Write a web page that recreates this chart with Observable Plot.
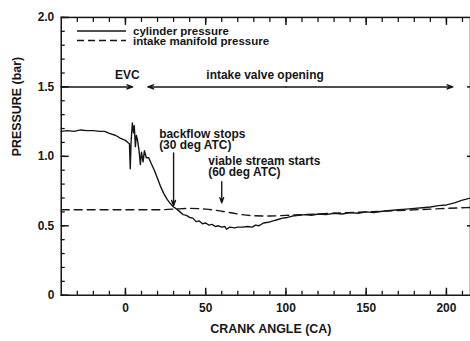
<!DOCTYPE html>
<html>
<head>
<meta charset="utf-8">
<script src="https://cdn.jsdelivr.net/npm/d3@7"></script>
<script src="https://cdn.jsdelivr.net/npm/@observablehq/plot@0.6"></script>
<style>
  html, body { margin: 0; padding: 0; background: #fff; overflow: hidden; }
  #wrap { position: relative; width: 470px; height: 341px; overflow: hidden; }
  #wrap svg.plot { position: absolute; left: 0; top: 0; }
  #legend { position: absolute; left: 0; top: 0; }
</style>
</head>
<body>
<div id="wrap"></div>
<script>
// ---- data ----
const cylAngle = [-40,-36,-32,-28,-24,-20,-16,-13,-10,-6,-3,0,1.5,2.5,3.0,3.5,4.3,5.0,5.5,6.2,6.8,7.5,8.5,9.3,10,11,11.8,13,14.5,16,18,20,22,24,26,28,30,32,34,36,38,40,42,44,46,48,50,52,54,56,58,60,62,63,65,68,70,73,76,79,81,83,86,89,92,95,98,101,104,108,112,116,120,125,130,135,140,145,150,155,160,165,170,175,180,185,190,195,200,205,210,215];
const cylPressure = [1.18,1.185,1.18,1.19,1.185,1.185,1.18,1.18,1.165,1.15,1.13,1.115,1.10,1.09,0.91,1.10,1.24,1.17,1.22,1.07,1.15,1.12,1.04,0.94,1.03,0.96,1.04,0.99,0.99,0.95,0.90,0.84,0.78,0.73,0.69,0.66,0.635,0.62,0.60,0.58,0.575,0.56,0.555,0.53,0.535,0.515,0.52,0.505,0.51,0.495,0.50,0.49,0.495,0.475,0.49,0.485,0.49,0.49,0.495,0.49,0.505,0.50,0.52,0.525,0.535,0.545,0.555,0.56,0.57,0.575,0.58,0.575,0.585,0.58,0.59,0.585,0.595,0.59,0.60,0.595,0.605,0.61,0.615,0.62,0.625,0.63,0.635,0.645,0.65,0.665,0.685,0.70];

const manAngle = [-40,-20,0,20,30,40,50,60,70,80,90,100,110,130,150,170,190,210,215];
const manPressure = [0.615,0.615,0.615,0.615,0.62,0.625,0.62,0.605,0.585,0.572,0.57,0.575,0.58,0.59,0.60,0.61,0.62,0.63,0.632];

const xMinorTicks = d3.range(-30, 215, 10);
const xMajorTicks = [0, 50, 100, 150, 200];
const yMinorTicks = d3.range(0, 2.01, 0.1).map(d => +d.toFixed(1));
const yMajorTicks = [0, 0.5, 1.0, 1.5, 2.0];
const yTickLabels = ["0", "0.5", "1.0", "1.5", "2.0"];

// events along the 1.5 bar line
const eventArrows = [
  {x1: -40, x2: 4.5, y: 1.5},   // EVC
  {x1: 100, x2: 14, y: 1.5},    // intake valve opening (left head)
  {x1: 100, x2: 204, y: 1.5}    // intake valve opening (right head)
];
const eventLabels = [
  {x: 1.2, y: 1.585, text: "EVC"},
  {x: 87, y: 1.585, text: "intake valve opening"}
];
const noteArrows = [
  {x: 30, y1: 1.025, y2: 0.645},
  {x: 60, y1: 0.817, y2: 0.665}
];
const noteLabels = [
  {x: 21, y: 1.12, text: "backflow stops\n(30 deg ATC)"},
  {x: 51.6, y: 0.925, text: "viable stream starts\n(60 deg ATC)"}
];
const legendItems = [
  {label: "cylinder pressure", dash: null},
  {label: "intake manifold pressure", dash: "7,4"}
];

const cyl = cylAngle.map((a, i) => ({a, p: cylPressure[i]}));
const man = manAngle.map((a, i) => ({a, p: manPressure[i]}));

const ink = "#161616";
const font = "'Liberation Sans', Arial, sans-serif";

const chart = Plot.plot({
  width: 472,
  height: 341,
  marginLeft: 61,
  marginRight: 0,
  marginTop: 17,
  marginBottom: 45,
  x: {domain: [-40, 215]},
  y: {domain: [0, 2]},
  style: {fontFamily: font, fontSize: "12px", fontWeight: "bold", color: ink, background: "#fff"},
  marks: [
    Plot.frame({stroke: ink, strokeWidth: 1.5}),
    // inward tick marks
    Plot.axisX(xMinorTicks, {anchor: "bottom", tickSize: -4, text: null, stroke: ink, strokeWidth: 1.3}),
    Plot.axisX(xMajorTicks, {anchor: "bottom", tickSize: -7, text: null, stroke: ink, strokeWidth: 1.5}),
    Plot.axisX(xMinorTicks, {anchor: "top", tickSize: -4, text: null, stroke: ink, strokeWidth: 1.3}),
    Plot.axisX(xMajorTicks, {anchor: "top", tickSize: -7, text: null, stroke: ink, strokeWidth: 1.5}),
    Plot.axisY(yMinorTicks, {anchor: "left", tickSize: -4, text: null, stroke: ink, strokeWidth: 1.3}),
    Plot.axisY(yMajorTicks, {anchor: "left", tickSize: -8, text: null, stroke: ink, strokeWidth: 1.5}),
    Plot.axisY([0.5, 1.0, 1.5], {anchor: "right", tickSize: -4, text: null, stroke: ink, strokeWidth: 1.5}),
    // tick labels
    Plot.axisX(xMajorTicks, {anchor: "bottom", tickSize: 0, tickPadding: 8, label: null, tickFormat: d => String(d), fill: ink, fontSize: 12, fontWeight: "bold"}),
    Plot.axisY(yMajorTicks, {anchor: "left", tickSize: 0, tickPadding: 7, label: null, tickFormat: (d, i) => yTickLabels[i], fill: ink, fontSize: 12, fontWeight: "bold"}),
    // axis titles
    Plot.text(["CRANK ANGLE (CA)"], {frameAnchor: "bottom", dy: 38, dx: 5, fill: ink, fontSize: 12.5, fontWeight: "bold"}),
    Plot.text(["PRESSURE (bar)"], {frameAnchor: "left", dx: -44, rotate: -90, fill: ink, fontSize: 12.5, fontWeight: "bold"}),
    // data
    Plot.line(man, {x: "a", y: "p", stroke: ink, strokeWidth: 1.4, strokeDasharray: "8,5", curve: "monotone-x"}),
    Plot.line(cyl, {x: "a", y: "p", stroke: ink, strokeWidth: 1.4}),
    // event arrows
    Plot.arrow(eventArrows, {x1: "x1", x2: "x2", y1: "y", y2: "y", stroke: ink, strokeWidth: 1.5, headLength: 6, headAngle: 40}),
    Plot.text(eventLabels, {x: "x", y: "y", text: "text", fill: ink, fontSize: 12, fontWeight: "bold"}),
    // annotations
    Plot.arrow(noteArrows, {x1: "x", x2: "x", y1: "y1", y2: "y2", stroke: ink, strokeWidth: 1.4, headLength: 6, headAngle: 40}),
    Plot.text(noteLabels, {x: "x", y: "y", text: "text", textAnchor: "start", lineHeight: 0.92, fill: ink, fontSize: 12, fontWeight: "bold"})
  ]
});
chart.classList.add("plot");
document.getElementById("wrap").appendChild(chart);

// legend overlay (inside the plot frame, top-left)
const ns = "http://www.w3.org/2000/svg";
const leg = document.createElementNS(ns, "svg");
leg.setAttribute("id", "legend");
leg.setAttribute("width", 470);
leg.setAttribute("height", 60);
legendItems.forEach((item, i) => {
  const yy = 31 + i * 9.5;
  const ln = document.createElementNS(ns, "line");
  ln.setAttribute("x1", 77); ln.setAttribute("x2", 126);
  ln.setAttribute("y1", yy); ln.setAttribute("y2", yy);
  ln.setAttribute("stroke", ink); ln.setAttribute("stroke-width", 1.4);
  if (item.dash) ln.setAttribute("stroke-dasharray", item.dash);
  leg.appendChild(ln);
  const tx = document.createElementNS(ns, "text");
  tx.setAttribute("x", 133); tx.setAttribute("y", yy + 4);
  tx.setAttribute("font-family", font);
  tx.setAttribute("font-size", 11.5);
  tx.setAttribute("font-weight", "bold");
  tx.setAttribute("fill", ink);
  tx.textContent = item.label;
  leg.appendChild(tx);
});
document.getElementById("wrap").appendChild(leg);
</script>
</body>
</html>
